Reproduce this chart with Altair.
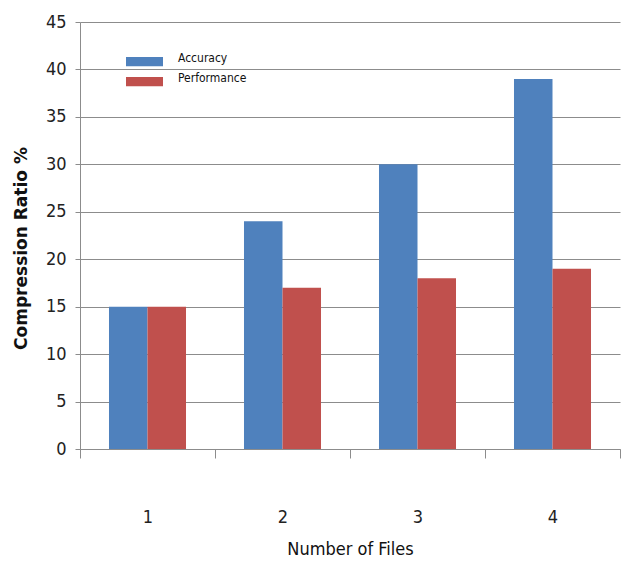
import altair as alt
import pandas as pd

# Compression ratio per number of files, for the two modes
files = ["1", "2", "3", "4"]
accuracy = [15, 24, 30, 39]
performance = [15, 17, 18, 19]
series = ["Accuracy", "Performance"]
colors = ["#4F81BD", "#C0504D"]
y_ticks = [0, 5, 10, 15, 20, 25, 30, 35, 40, 45]

rows = []
for f, a, p in zip(files, accuracy, performance):
    rows.append({"files": f, "series": series[0], "ratio": a})
    rows.append({"files": f, "series": series[1], "ratio": p})
df = pd.DataFrame(rows)

NARROW = "DejaVu Sans Condensed"
GREY = "#8c8c8c"

bars = alt.Chart(df).mark_bar().encode(
    x=alt.X(
        "files:N",
        title="Number of Files",
        scale=alt.Scale(paddingInner=0, paddingOuter=0),
        axis=alt.Axis(
            labelAngle=0,
            labelFont=NARROW,
            labelFontSize=18,
            labelColor="#222222",
            labelPadding=50,
            tickBand="extent",
            tickSize=9,
            tickColor=GREY,
            domainColor=GREY,
            titleFont=NARROW,
            titleFontSize=18,
            titleFontWeight="normal",
            titleColor="#111111",
            titlePadding=14,
        ),
    ),
    xOffset=alt.XOffset(
        "series:N",
        sort=series,
        scale=alt.Scale(paddingInner=0, paddingOuter=0.753),
    ),
    y=alt.Y(
        "ratio:Q",
        title="Compression Ratio %",
        scale=alt.Scale(domain=[0, 45], nice=False),
        axis=alt.Axis(
            values=y_ticks,
            labelFont=NARROW,
            labelFontSize=18,
            labelColor="#222222",
            labelPadding=9,
            tickSize=5,
            tickColor=GREY,
            domainColor=GREY,
            gridColor=GREY,
            titleFont="DejaVu Sans",
            titleFontSize=17,
            titleFontWeight="bold",
            titleColor="#111111",
            titleX=-50,
            titleY=226,
        ),
    ),
    color=alt.Color(
        "series:N",
        sort=series,
        scale=alt.Scale(domain=series, range=colors),
        legend=alt.Legend(
            title=None,
            orient="none",
            legendX=46,
            legendY=30,
            symbolType="M-1,-0.25L1,-0.25L1,0.25L-1,0.25Z",
            symbolSize=1369,
            symbolStrokeWidth=0,
            labelOffset=15,
            labelFont=NARROW,
            labelFontSize=12,
            labelColor="#111111",
            labelBaseline="alphabetic",
            clipHeight=19,
            rowPadding=0,
        ),
    ),
)

chart = bars.properties(
    width=540,
    height=427,
    padding={"left": 80, "top": 22, "right": 7, "bottom": 113},
    autosize=alt.AutoSizeParams(type="none"),
).configure_view(stroke=None).configure_axisX(grid=False)

chart.save("out.html", embed_options={"renderer": "svg", "actions": False})
